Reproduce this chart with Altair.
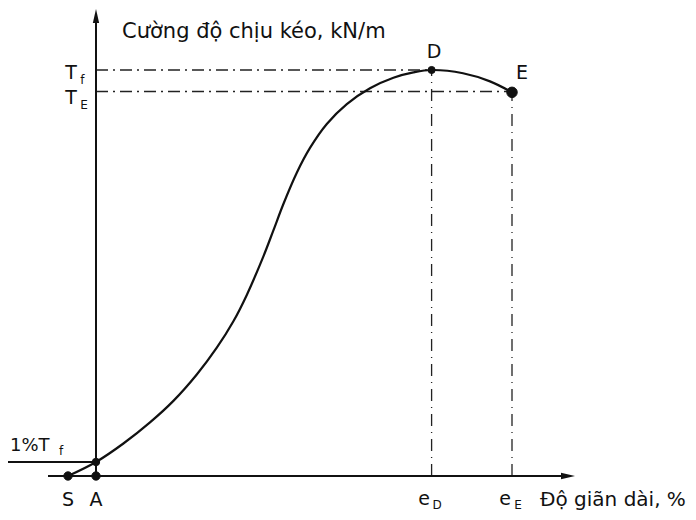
import altair as alt
import pandas as pd

# ---- data (arbitrary units: elongation, strength) ----
curve_elong = [-1.4, 0.0, 1.37, 2.7, 3.87, 5.04, 6.04, 6.87, 7.54, 8.37, 8.87,
               9.37, 10.04, 10.7, 11.54, 12.54, 13.7, 14.87, 15.87, 16.78,
               18.35, 19.7, 20.8]
curve_strength = [0.0, 3.45, 8.0, 13.2, 18.5, 25.0, 31.6, 38.1, 44.6, 54.1,
                  60.5, 67.0, 74.7, 80.8, 86.7, 91.6, 95.5, 98.1, 99.4, 100.0,
                  99.2, 97.2, 94.5]

point_names = ["S", "A", "P1", "D", "E"]
point_x = [-1.4, 0.0, 0.0, 16.78, 20.8]
point_y = [0.0, 0.0, 3.45, 100.0, 94.5]
point_size = [70, 70, 55, 50, 110]

T_f = 100.0
T_E = 94.7
e_D = 16.78
e_E = 20.8
one_pct_T = 3.45

x_domain = [-4.4, 29.6]
y_domain = [-8.87, 115.27]

# label texts
ytitle_text = ["Cường độ chịu kéo, kN/m"]
ytitle_x = [1.3]
ytitle_y = [109.4]

xtitle_text = ["Độ giãn dài, %"]
xtitle_x = [22.2]
xtitle_y = [-5.9]

onepct_text = ["1%T"]
onepct_x = [-4.3]
onepct_y = [7.4]

big_center_text = ["T", "T", "S", "A", "D", "E", "e", "e"]
big_center_x = [-1.25, -1.25, -1.4, 0.0, 16.9, 21.3, 16.4, 20.45]
big_center_y = [99.2, 93.1, -5.9, -5.9, 104.4, 99.3, -5.7, -5.7]

sub_text = ["f", "E", "f", "D", "E"]
sub_x = [-0.68, -0.6, -1.75, 17.05, 21.1]
sub_y = [97.6, 91.3, 6.1, -7.2, -7.2]

FONT = "DejaVu Sans"
INK = "#111111"

xs = alt.Scale(domain=x_domain, nice=False, zero=False)
ys = alt.Scale(domain=y_domain, nice=False, zero=False)


def X(f="x"):
    return alt.X(f"{f}:Q", scale=xs, axis=None)


def Y(f="y"):
    return alt.Y(f"{f}:Q", scale=ys, axis=None)


def text_layer(texts, xv, yv, size, align):
    df = pd.DataFrame({"t": texts, "x": xv, "y": yv})
    return alt.Chart(df).mark_text(
        font=FONT, fontSize=size, align=align, baseline="middle", color=INK
    ).encode(x=X(), y=Y(), text="t:N")


curve_df = pd.DataFrame({"x": curve_elong, "y": curve_strength})
curve = alt.Chart(curve_df).mark_line(
    interpolate="catmull-rom", color=INK, strokeWidth=2.2
).encode(x=X(), y=Y())

# axes
yaxis_df = pd.DataFrame({"x": [0.0], "y": [-0.3], "y2": [113.0]})
yaxis = alt.Chart(yaxis_df).mark_rule(color=INK, strokeWidth=2).encode(
    x=X(), y=Y(), y2="y2:Q")
xaxis_df = pd.DataFrame({"x": [-2.4], "x2": [23.4], "y": [0.0]})
xaxis = alt.Chart(xaxis_df).mark_rule(color=INK, strokeWidth=2).encode(
    x=X(), x2="x2:Q", y=Y())

arrow_up_df = pd.DataFrame({"x": [0.0], "y": [113.3]})
arrow_up = alt.Chart(arrow_up_df).mark_point(
    shape="M0,-1L0.45,1L-0.45,1Z", filled=True, color=INK, size=196, opacity=1
).encode(x=X(), y=Y())
arrow_right_df = pd.DataFrame({"x": [23.6], "y": [0.0]})
arrow_right = alt.Chart(arrow_right_df).mark_point(
    shape="M1,0L-1,0.45L-1,-0.45Z", filled=True, color=INK, size=196, opacity=1
).encode(x=X(), y=Y())

# 1% T line
onepct_df = pd.DataFrame({"x": [x_domain[0]], "x2": [0.0], "y": [one_pct_T]})
onepct = alt.Chart(onepct_df).mark_rule(color=INK, strokeWidth=1.8).encode(
    x=X(), x2="x2:Q", y=Y())

# dash-dot guides
h_df = pd.DataFrame({"x": [0.0, 0.0], "x2": [e_D, e_E], "y": [T_f, T_E]})
hlines = alt.Chart(h_df).mark_rule(
    color="#222222", strokeWidth=1.3, strokeDash=[12, 5, 2, 5]
).encode(x=X(), x2="x2:Q", y=Y())
v_df = pd.DataFrame({"x": [e_D, e_E], "y": [0.0, 0.0], "y2": [T_f, T_E]})
vlines = alt.Chart(v_df).mark_rule(
    color="#222222", strokeWidth=1.3, strokeDash=[12, 6, 1, 6]
).encode(x=X(), y=Y(), y2="y2:Q")

pts_df = pd.DataFrame({"name": point_names, "x": point_x, "y": point_y,
                       "s": point_size})
pts = alt.Chart(pts_df).mark_circle(color=INK, opacity=1, stroke=INK,
                                    strokeWidth=1).encode(
    x=X(), y=Y(), size=alt.Size("s:Q", scale=None, legend=None))

ytitle = text_layer(ytitle_text, ytitle_x, ytitle_y, 21, "left")
xtitle = text_layer(xtitle_text, xtitle_x, xtitle_y, 20, "left")
onepct_lbl = text_layer(onepct_text, onepct_x, onepct_y, 18, "left")
big_center = text_layer(big_center_text, big_center_x, big_center_y, 19, "center")
subs = text_layer(sub_text, sub_x, sub_y, 12, "center")

chart = alt.layer(
    hlines, vlines, onepct, yaxis, xaxis, arrow_up, arrow_right,
    curve, pts, ytitle, xtitle, onepct_lbl, big_center, subs
).properties(
    width=680, height=504, padding=0,
    autosize=alt.AutoSizeParams(type="none"),
    background="white",
).configure_view(stroke=None)

chart.save("out.html", embed_options={"renderer": "svg", "actions": False})
